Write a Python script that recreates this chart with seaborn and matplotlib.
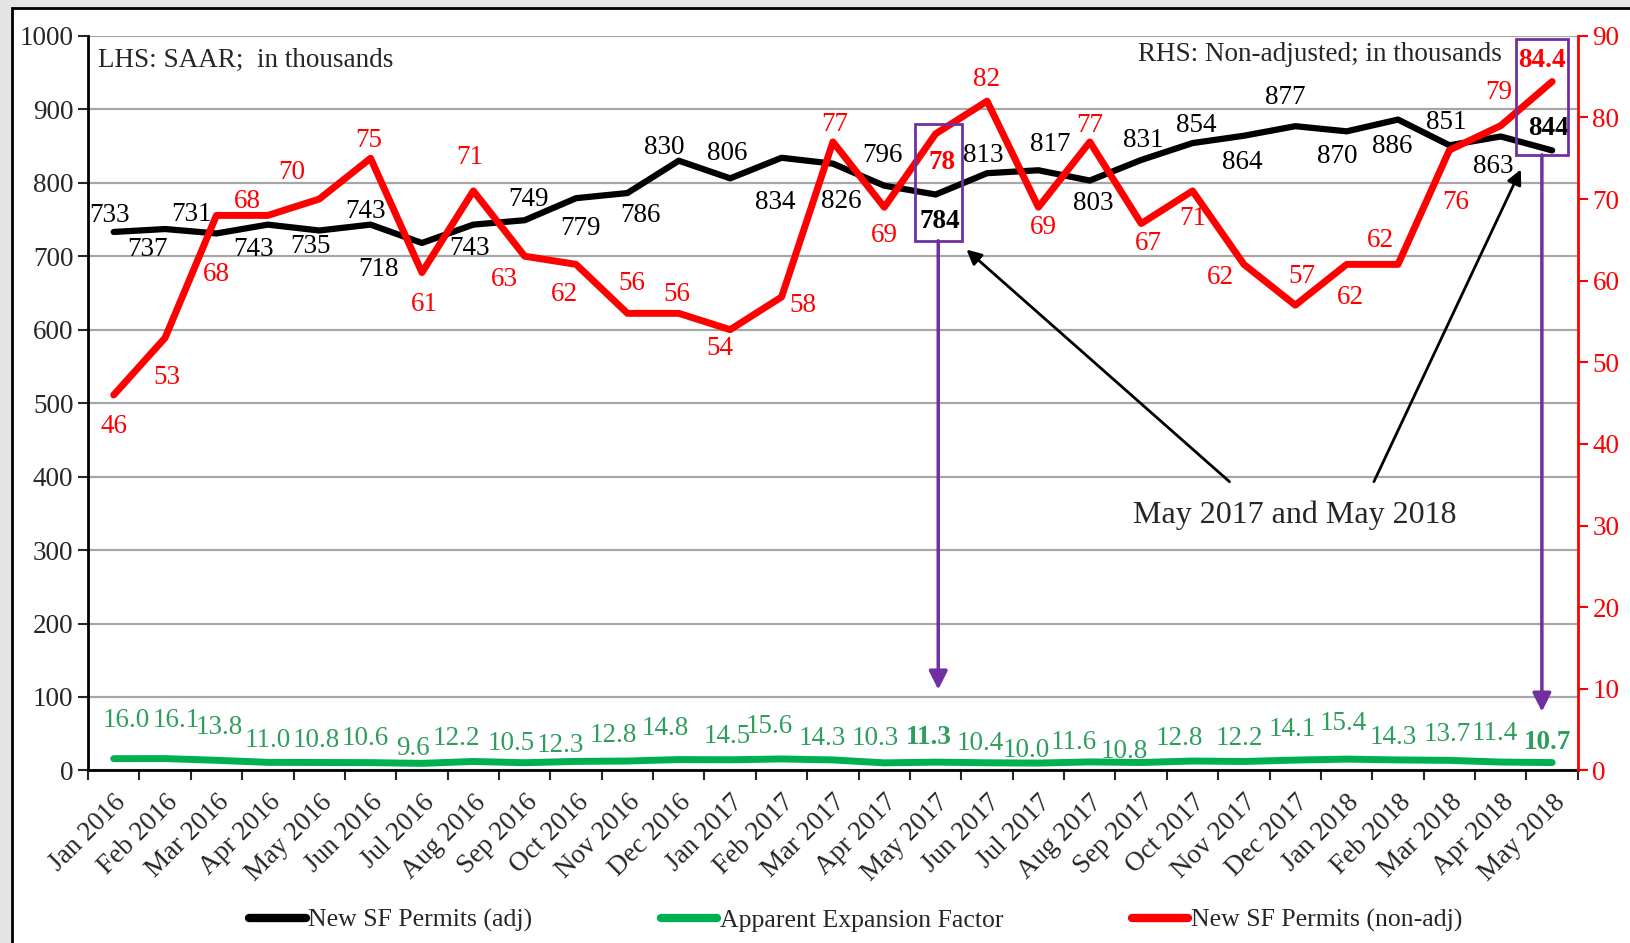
import numpy as np
import pandas as pd
import seaborn as sns
import matplotlib.pyplot as plt
from matplotlib.patches import Rectangle
from matplotlib.lines import Line2D

# data
months = ["Jan 2016", "Feb 2016", "Mar 2016", "Apr 2016", "May 2016", "Jun 2016", "Jul 2016",
          "Aug 2016", "Sep 2016", "Oct 2016", "Nov 2016", "Dec 2016", "Jan 2017", "Feb 2017",
          "Mar 2017", "Apr 2017", "May 2017", "Jun 2017", "Jul 2017", "Aug 2017", "Sep 2017",
          "Oct 2017", "Nov 2017", "Dec 2017", "Jan 2018", "Feb 2018", "Mar 2018", "Apr 2018",
          "May 2018"]
sf_adj = [733, 737, 731, 743, 735, 743, 718, 743, 749, 779, 786, 830, 806, 834, 826, 796,
          784, 813, 817, 803, 831, 854, 864, 877, 870, 886, 851, 863, 844]
sf_nonadj = [46, 53, 68, 68, 70, 75, 61, 71, 63, 62, 56, 56, 54, 58, 77, 69, 78, 82, 69, 77,
             67, 71, 62, 57, 62, 62, 76, 79, 84.4]
exp_factor = [16.0, 16.1, 13.8, 11.0, 10.8, 10.6, 9.6, 12.2, 10.5, 12.3, 12.8, 14.8, 14.5, 15.6,
              14.3, 10.3, 11.3, 10.4, 10.0, 11.6, 10.8, 12.8, 12.2, 14.1, 15.4, 14.3, 13.7, 11.4, 10.7]
nonadj_labels = [str(v) if v != int(v) else str(int(v)) for v in sf_nonadj]

# label placement (pixel offsets from the point)
adj_off = [(-4, 16), (-18, -20), (-25, 19), (-14, -25), (-9, -16), (-5, 13), (-43, -27), (-4, -24),
           (4, 21), (4, -30), (13, -22), (-15, 13), (-3, 25), (-6, -45), (8, -38), (-2, 30),
           (4, -27), (-4, 18), (12, 26), (3, -23), (2, 19), (4, 18), (-2, -27), (-10, 29),
           (-9, -25), (-6, -27), (-3, 23), (-8, -30), (-4, 22)]
nonadj_off = [(0, -32), (2, -40), (0, -59), (-20, 14), (-27, 27), (-2, 18), (2, -32), (-4, 33),
              (-20, -23), (-12, -30), (4, 30), (-2, 19), (-10, -19), (21, -8), (2, 17), (0, -28),
              (6, -29), (0, 22), (5, -20), (0, 16), (7, -20), (0, -28), (-23, -13), (7, 29),
              (4, -33), (-18, 24), (6, -52), (-2, 33), (-10, 21)]
exp_dx = [12, 11, 3, 0, -3, -5, -9, -16, -13, -15, -14, -13, -3, -12, -10, -9, -7, -7, -12, -15,
          -16, -13, -4, -3, -3, -5, -2, -6, -4]
exp_dy = [37, 37, 32, 21, 21, 23, 14, 22, 18, 15, 25, 30, 22, 31, 21, 23, 24, 19, 12, 19, 11, 22,
          22, 29, 34, 22, 25, 27, 19]
bold_idx = [16, 28]

df = pd.DataFrame({"pos": np.arange(len(months)), "adj": sf_adj,
                   "nonadj": sf_nonadj, "factor": exp_factor})

sns.set_style("white")
plt.rcParams['font.family'] = ['Liberation Serif', 'DejaVu Serif']
FS = 19.5
RED = '#FF0000'
GREEN = '#00B050'
GREEN_TXT = '#2E9E5E'
PURPLE = '#7030A0'

fig = plt.figure(figsize=(16.3, 9.43), dpi=100, facecolor='#e4e4e4')
fig.patches.append(Rectangle((12 / 1630, -0.1), 1.2, 1.1 - 8 / 943, transform=fig.transFigure,
                             facecolor='white', edgecolor='black', lw=2, zorder=-10))
ax = fig.add_axes([0.054, 0.183, 0.914, 0.779])
ax.set_facecolor('none')

sns.lineplot(data=df, x="pos", y="adj", ax=ax, color='black', lw=4.5, legend=False)
sns.lineplot(data=df, x="pos", y="factor", ax=ax, color=GREEN, lw=5, legend=False)
ax.set_ylim(0, 1000)
ax.set_xlim(-0.5, len(months) - 0.5)
ax.set_yticks(range(0, 1001, 100))
ax.yaxis.grid(True, color='#a6a6a6', lw=1.6)
ax.set_axisbelow(True)
ax.set_xticks(df["pos"])
ax.set_xticklabels(months, rotation=45, ha='right', rotation_mode='anchor', fontsize=FS)
ax.set_xticks(np.arange(-0.5, len(months)), minor=True)
ax.tick_params(axis='x', which='major', length=0, pad=14)
ax.tick_params(axis='x', which='minor', length=7, width=1.5, direction='out', bottom=True)
ax.tick_params(axis='y', length=7, width=1.5, direction='out', left=True, labelsize=FS)
ax.set_xlabel("")
ax.set_ylabel("")
for s in ['top', 'right']:
    ax.spines[s].set_visible(False)
for s in ['left', 'bottom']:
    ax.spines[s].set_linewidth(2)
    ax.spines[s].set_color('black')

ax2 = ax.twinx()
sns.lineplot(data=df, x="pos", y="nonadj", ax=ax2, color=RED, lw=5, legend=False)
ax2.set_ylim(0, 90)
ax2.set_yticks(range(0, 91, 10))
ax2.set_ylabel("")
ax2.tick_params(axis='y', colors=RED, length=7, width=1.5, direction='out', right=True, labelsize=FS)
for s in ['top', 'left', 'bottom']:
    ax2.spines[s].set_visible(False)
ax2.spines['right'].set_color(RED)
ax2.spines['right'].set_linewidth(2)

# data labels
for i in range(len(months)):
    w = 'bold' if i in bold_idx else 'normal'
    ax.annotate(str(sf_adj[i]), (i, sf_adj[i]), xytext=adj_off[i], textcoords='offset pixels',
                ha='center', va='center', fontsize=FS, color='black', fontweight=w)
    ax2.annotate(nonadj_labels[i], (i, sf_nonadj[i]), xytext=nonadj_off[i], textcoords='offset pixels',
                 ha='center', va='center', fontsize=FS, color=RED, fontweight=w, zorder=6)
    ax.annotate(f"{exp_factor[i]:.1f}", (i, exp_factor[i]),
                xytext=(exp_dx[i] * 1.04, exp_dy[i] * 1.04), textcoords='offset pixels',
                ha='center', va='center', fontsize=FS, color=GREEN_TXT, fontweight=w)

# highlight boxes and arrows
ax2.add_patch(Rectangle((15.59, 721), 0.92, 159, transform=ax.transData, fill=False,
                        edgecolor=PURPLE, lw=2, clip_on=False, zorder=7))
ax2.add_patch(Rectangle((27.29, 838), 1.02, 158, transform=ax.transData, fill=False,
                        edgecolor=PURPLE, lw=2, clip_on=False, zorder=7))
ax2.annotate('', xy=(16.05, 110), xycoords=ax.transData, xytext=(16.05, 721), textcoords=ax.transData,
             arrowprops=dict(arrowstyle='-|>', color=PURPLE, lw=2.5, mutation_scale=28, shrinkA=0, shrinkB=0))
ax2.annotate('', xy=(27.8, 80), xycoords=ax.transData, xytext=(27.8, 838), textcoords=ax.transData,
             arrowprops=dict(arrowstyle='-|>', color=PURPLE, lw=2.5, mutation_scale=28, shrinkA=0, shrinkB=0))
ax2.annotate('', xy=(16.6, 709), xycoords=ax.transData, xytext=(21.72, 393), textcoords=ax.transData,
             arrowprops=dict(arrowstyle='-|>', color='black', lw=2, mutation_scale=22, shrinkA=0, shrinkB=0))
ax2.annotate('', xy=(27.39, 818), xycoords=ax.transData, xytext=(24.53, 393), textcoords=ax.transData,
             arrowprops=dict(arrowstyle='-|>', color='black', lw=2, mutation_scale=22, shrinkA=0, shrinkB=0))
ax.text(22.98, 347, "May 2017 and May 2018", ha='center', va='center', fontsize=23)

ax.text(0.007, 0.967, "LHS: SAAR;  in thousands", transform=ax.transAxes, ha='left', va='center', fontsize=FS)
ax.text(0.949, 0.974, "RHS: Non-adjusted; in thousands", transform=ax.transAxes, ha='right',
        va='center', fontsize=FS)

handles = [Line2D([], [], color='black', lw=6), Line2D([], [], color=GREEN, lw=6),
           Line2D([], [], color=RED, lw=6)]
fig.legend(handles, ["New SF Permits (adj)", "Apparent Expansion Factor", "New SF Permits (non-adj)"],
           ncol=3, loc='lower center', bbox_to_anchor=(0.525, -0.013), frameon=False, fontsize=18.5,
           columnspacing=5.0, handlelength=2.2, handletextpad=0.1)

fig.savefig("out.png", dpi=100, facecolor=fig.get_facecolor())
